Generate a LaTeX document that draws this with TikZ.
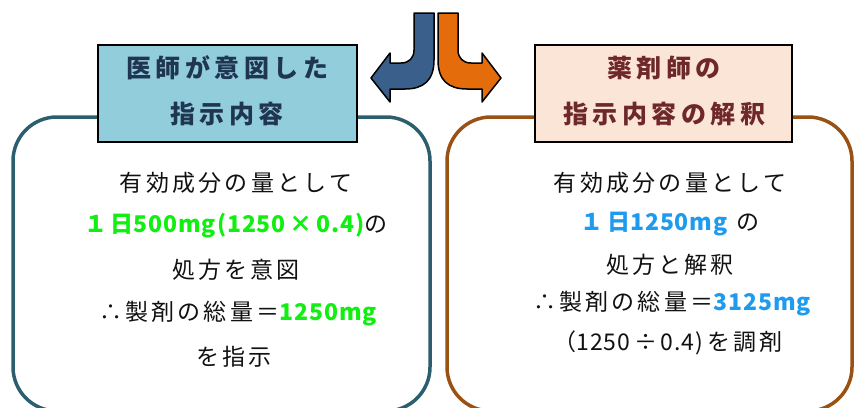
\documentclass[tikz,border=0pt]{standalone}
\usepackage{fontspec}
\setmainfont{Noto Sans CJK JP}
\newfontfamily\jp{Noto Sans CJK JP}[LetterSpace=14]
\newfontfamily\jph{Noto Sans CJK JP}[LetterSpace=18]
\newfontfamily\lat{Noto Sans CJK JP}[LetterSpace=4]
\definecolor{tealline}{HTML}{2C5F6E}
\definecolor{brownline}{HTML}{9A5214}
\definecolor{hblue}{HTML}{92CDDC}
\definecolor{hpeach}{HTML}{FBE5D6}
\definecolor{hbluetxt}{HTML}{1F3550}
\definecolor{hpeachtxt}{HTML}{6E2828}
\definecolor{gtxt}{HTML}{11EE11}
\definecolor{btxt}{HTML}{1E9BEF}
\definecolor{txt}{HTML}{111111}
\definecolor{arrblue}{HTML}{3A5F8A}
\definecolor{arrorange}{HTML}{E46C0A}
\begin{document}
\begin{tikzpicture}[x=1pt,y=-1pt,
  body/.style={font=\jp\fontsize{23}{28}\selectfont, text=txt, inner sep=0pt, anchor=center},
  headtxt/.style={font=\jph\bfseries\fontsize{25}{30}\selectfont, inner sep=0pt, anchor=center},
  headbox/.style={draw=black, line width=1.5pt, inner sep=0pt},
  bigbox/.style={line width=3.5pt, rounded corners=44pt},
  arr/.style={draw=black, line width=1.5pt, line join=round}]
\useasboundingbox (0,0) rectangle (856,407);
\clip (0,0) rectangle (856,407);
% big rounded boxes
\draw[bigbox, draw=tealline] (13,117) rectangle (430,411);
\draw[bigbox, draw=brownline] (447,117) rectangle (852,411);
% header boxes
\path[headbox, fill=hblue] (98,45) rectangle (357,142);
\path[headbox, fill=hpeach] (535,45) rectangle (792,142);
\node[headtxt, text=hbluetxt] (h1a) at (227,68) {医師が意図した};
\node[headtxt, text=hbluetxt] (h1b) at (227,114) {指示内容};
\node[headtxt, text=hpeachtxt] (h2a) at (664,68) {薬剤師の};
\node[headtxt, text=hpeachtxt] (h2b) at (664,114) {指示内容の解釈};
% arrows
\path[arr, fill=arrblue] (414,13) -- (434,13) -- (434,60)
  .. controls (434,80) and (424,89) .. (405,89) -- (390,89) -- (390,102)
  -- (371,78) -- (390,53) -- (390,63) -- (401,63)
  .. controls (409,63) and (414,58) .. (414,50) -- cycle;
\path[arr, fill=arrorange] (458,13) -- (438,13) -- (438,60)
  .. controls (438,80) and (448,89) .. (467,89) -- (482,89) -- (482,102)
  -- (501,78) -- (482,53) -- (482,63) -- (471,63)
  .. controls (463,63) and (458,58) .. (458,50) -- cycle;
% left body
\node[body] (l1) at (236,183) {有効成分の量として};
\node[body] (l2) at (236,226) {{\color{gtxt}\bfseries １日{\lat 500mg(1250\,×\,0.4)}}の};
\node[body] (l3) at (236,270) {処方を意図};
\node[body] (l4) at (238,314) {∴製剤の総量＝{\color{gtxt}\bfseries\lat 1250mg}};
\node[body] (l5) at (234,357) {を指示};
% right body
\node[body] (r1) at (670,183) {有効成分の量として};
\node[body] (r2) at (670,224) {{\color{btxt}\bfseries １日{\lat 1250mg}}\ の};
\node[body] (r3) at (670,265) {処方と解釈};
\node[body] (r4) at (672,304) {∴製剤の総量＝{\color{btxt}\bfseries\lat 3125mg}};
\node[body] (r5) at (668,343) {（{\lat 1250\,÷\,0.4)}\,を調剤};
\end{tikzpicture}
\end{document}
